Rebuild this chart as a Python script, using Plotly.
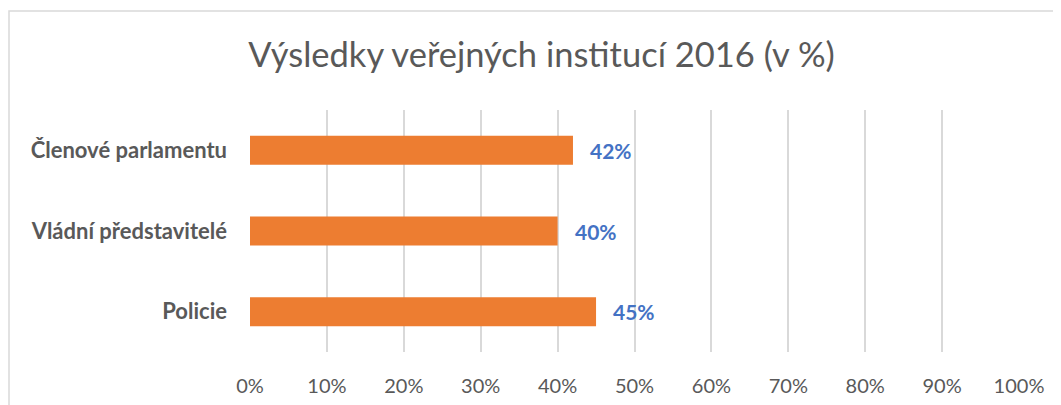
import plotly.graph_objects as go

categories = ["Členové parlamentu", "Vládní představitelé", "Policie"]
values = [42, 40, 45]
value_labels = ["42%", "40%", "45%"]
tick_values = [0, 10, 20, 30, 40, 50, 60, 70, 80, 90, 100]
tick_labels = ["0%", "10%", "20%", "30%", "40%", "50%", "60%", "70%", "80%", "90%", "100%"]
title_text = "Výsledky veřejných institucí 2016 (v %)"

FONT = "Lato"
OFF = 8  # default page body margin
W, H = 1061 - OFF, 405 - OFF
L, R, T, B = 250 - OFF, 42, 110 - OFF, 53
pw, ph = W - L - R, H - T - B

fig = go.Figure()
fig.add_trace(go.Bar(
    x=values, y=categories, orientation="h",
    marker=dict(color="#ED7D31", line=dict(width=0)),
    width=0.36, hoverinfo="skip",
))

for v, c, lab in zip(values, categories, value_labels):
    fig.add_annotation(x=v, y=c, text="<b>" + lab + "</b>", showarrow=False,
                       xanchor="left", yanchor="middle", xshift=15,
                       font=dict(family=FONT, size=21, color="#4472C4"))

def px(xp):
    return (xp - OFF - L) / pw

def py(yp):
    return (OFF + H - B - yp) / ph

fig.add_shape(type="path", xref="paper", yref="paper",
              path=f"M {px(9)} {py(430)} L {px(9)} {py(11)} L {px(1090)} {py(11)}",
              line=dict(color="#d9d9d9", width=1.5), layer="below")

fig.update_layout(
    width=W, height=H,
    margin=dict(l=L, r=R, t=T, b=B, pad=0, autoexpand=False),
    paper_bgcolor="white", plot_bgcolor="white",
    showlegend=False,
    title=dict(text=title_text, x=(541.5 - OFF) / W, xanchor="center",
               y=1 - (55 - OFF) / H, yanchor="middle",
               yref="container", font=dict(family=FONT, size=34.5, color="#595959")),
    xaxis=dict(range=[0, 100], tickvals=tick_values, ticktext=tick_labels,
               showgrid=True, gridcolor="#d9d9d9", gridwidth=1.5, automargin=False,
               zeroline=False, showline=False, ticks="", ticklabelstandoff=20,
               tickfont=dict(family=FONT, size=20, color="#595959"), fixedrange=True),
    yaxis=dict(autorange="reversed", showgrid=False, zeroline=False, showline=False,
               ticks="", ticklabelstandoff=22, automargin=False,
               tickfont=dict(family=FONT, size=22, color="#595959", weight="bold")),
    font=dict(family=FONT),
)

fig.write_html("out.html")
